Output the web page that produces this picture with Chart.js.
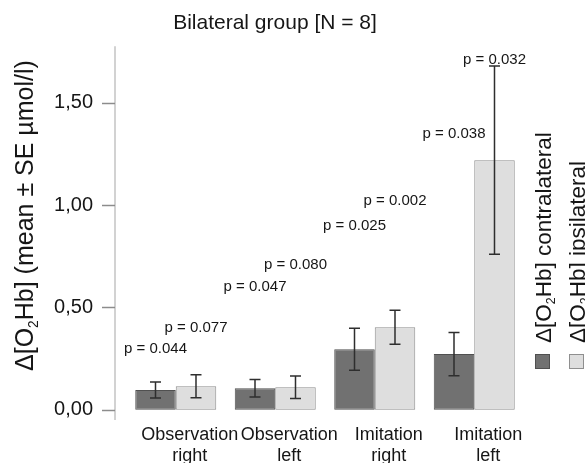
<!DOCTYPE html>
<html>
<head>
<meta charset="utf-8">
<title>Bilateral group</title>
<script src="https://cdn.jsdelivr.net/npm/chart.js@4.4.1/dist/chart.umd.min.js"></script>
<style>
  html, body { margin: 0; padding: 0; background: #fff; }
  #wrap { width: 585px; height: 465px; }
</style>
</head>
<body>
<div id="wrap"><canvas id="chart" width="585" height="465"></canvas></div>
<script>
const categories = [['Observation', 'right'], ['Observation', 'left'], ['Imitation', 'right'], ['Imitation', 'left']];
const contraMean = [0.097, 0.105, 0.296, 0.272];
const contraSE = [0.039, 0.043, 0.103, 0.106];
const ipsiMean = [0.115, 0.110, 0.403, 1.220];
const ipsiSE = [0.056, 0.055, 0.083, 0.460];
const contraP = ['p = 0.044', 'p = 0.047', 'p = 0.025', 'p = 0.038'];
const ipsiP = ['p = 0.077', 'p = 0.080', 'p = 0.002', 'p = 0.032'];
// level (axis units) where each p label is written
const contraPLevel = [0.30, 0.60, 0.90, 1.35];
const ipsiPLevel = [0.40, 0.71, 1.02, 1.71];
const yTicks = [0, 0.5, 1.0, 1.5];

const FONT = "'Liberation Sans', Arial, sans-serif";
const TXT = '#161616';

// draws "Δ[O2Hb]..." with a subscript 2, from the current origin along +x
function drawO2Hb(ctx, x, y, rest, size) {
  ctx.textAlign = 'left';
  ctx.textBaseline = 'alphabetic';
  ctx.font = size + 'px ' + FONT;
  ctx.fillText('Δ[O', x, y);
  x += ctx.measureText('Δ[O').width;
  ctx.font = (size * 0.55) + 'px ' + FONT;
  ctx.fillText('2', x, y + size * 0.18);
  x += ctx.measureText('2').width;
  ctx.font = size + 'px ' + FONT;
  ctx.fillText('Hb]' + rest, x, y);
}

const extras = {
  id: 'extras',
  beforeDatasetsDraw(chart) {
    const {ctx, chartArea, scales: {y}} = chart;
    const ax = chartArea.left - 11;
    ctx.save();
    ctx.strokeStyle = '#d2d2d2';
    ctx.lineWidth = 2;
    ctx.beginPath();
    ctx.moveTo(ax, chartArea.top);
    ctx.lineTo(ax, chartArea.bottom);
    ctx.stroke();
    ctx.strokeStyle = '#8c8c8c';
    ctx.lineWidth = 1.5;
    y.ticks.forEach(t => {
      const py = Math.round(y.getPixelForValue(t.value)) + 0.5;
      ctx.beginPath();
      ctx.moveTo(ax - 13, py);
      ctx.lineTo(ax, py);
      ctx.stroke();
    });
    ctx.restore();
  },
  afterDatasetsDraw(chart) {
    const {ctx, scales: {y}} = chart;
    ctx.save();
    chart.data.datasets.forEach((ds, i) => {
      const meta = chart.getDatasetMeta(i);
      meta.data.forEach((bar, j) => {
        const v = ds.data[j];
        const top = y.getPixelForValue(v + ds.se[j]);
        const bot = y.getPixelForValue(v - ds.se[j]);
        ctx.strokeStyle = '#2e2e2e';
        ctx.lineWidth = 1.5;
        ctx.beginPath();
        ctx.moveTo(bar.x, top);
        ctx.lineTo(bar.x, bot);
        ctx.moveTo(bar.x - 5.5, top);
        ctx.lineTo(bar.x + 5.5, top);
        ctx.moveTo(bar.x - 5.5, bot);
        ctx.lineTo(bar.x + 5.5, bot);
        ctx.stroke();
        ctx.fillStyle = TXT;
        ctx.font = '15px ' + FONT;
        ctx.textAlign = 'center';
        ctx.textBaseline = 'middle';
        ctx.fillText(ds.pText[j], bar.x, y.getPixelForValue(ds.pLevel[j]));
      });
    });
    ctx.restore();
  },
  afterDraw(chart) {
    const {ctx, chartArea} = chart;
    ctx.save();
    ctx.fillStyle = TXT;
    // y axis title
    ctx.save();
    ctx.translate(33, chartArea.bottom - 49);
    ctx.rotate(-Math.PI / 2);
    drawO2Hb(ctx, 0, 0, ' (mean ± SE µmol/l)', 25);
    ctx.restore();
    // legend
    chart.data.datasets.forEach((ds, i) => {
      const sx = chartArea.right + 11 + i * 34;
      ctx.fillStyle = ds.backgroundColor;
      ctx.strokeStyle = ds.borderColor;
      ctx.lineWidth = 1;
      ctx.fillRect(sx, 354, 15, 15);
      ctx.strokeRect(sx + 0.5, 354.5, 14, 14);
      ctx.save();
      ctx.fillStyle = TXT;
      ctx.translate(sx + 16, 343);
      ctx.rotate(-Math.PI / 2);
      drawO2Hb(ctx, 0, 0, ' ' + ds.label, 22.5);
      ctx.restore();
    });
    ctx.restore();
  }
};

new Chart(document.getElementById('chart'), {
  type: 'bar',
  data: {
    labels: categories,
    datasets: [
      {
        label: 'contralateral',
        data: contraMean,
        se: contraSE,
        pText: contraP,
        pLevel: contraPLevel,
        backgroundColor: '#717171',
        borderColor: '#505050',
        borderWidth: 1,
        borderSkipped: false,
        categoryPercentage: 0.814,
        barPercentage: 1.0
      },
      {
        label: 'ipsilateral',
        data: ipsiMean,
        se: ipsiSE,
        pText: ipsiP,
        pLevel: ipsiPLevel,
        backgroundColor: '#dedede',
        borderColor: '#8f8f8f',
        borderWidth: 1,
        borderSkipped: false,
        categoryPercentage: 0.814,
        barPercentage: 1.0
      }
    ]
  },
  options: {
    responsive: false,
    animation: false,
    layout: { padding: { left: 26, right: 61, top: 0, bottom: 0 } },
    plugins: {
      legend: { display: false },
      tooltip: { enabled: false },
      title: {
        display: true,
        text: 'Bilateral group [N = 8]',
        color: TXT,
        font: { family: FONT, size: 21, weight: 'normal' },
        padding: { top: 11, bottom: 10 }
      }
    },
    scales: {
      x: {
        grid: { display: false, drawTicks: false },
        border: { display: false },
        ticks: {
          color: TXT,
          font: { family: FONT, size: 18 },
          padding: 4,
          labelOffset: 14,
          maxRotation: 0,
          autoSkip: false
        },
        afterFit(scale) { scale.height = 43; }
      },
      y: {
        min: -0.05,
        max: 1.777,
        grid: { display: false, drawTicks: false },
        border: { display: false },
        ticks: {
          color: TXT,
          font: { family: FONT, size: 20 },
          padding: 33,
          callback: v => v.toFixed(2).replace('.', ',')
        },
        afterBuildTicks(scale) { scale.ticks = yTicks.map(v => ({ value: v })); },
        afterFit(scale) { scale.width = 100; }
      }
    }
  },
  plugins: [extras]
});
</script>
</body>
</html>
